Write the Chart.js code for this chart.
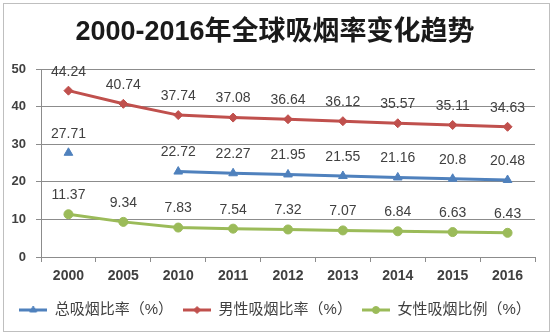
<!DOCTYPE html>
<html>
<head>
<meta charset="utf-8">
<script src="https://cdn.jsdelivr.net/npm/chart.js@4/dist/chart.umd.min.js"></script>
<style>
    html, body { margin: 0; padding: 0; background: #fff; }
    canvas { display: block; }
</style>
</head>
<body>
<canvas id="smokingChart" width="554" height="336"></canvas>
<script>
const years = ['2000', '2005', '2010', '2011', '2012', '2013', '2014', '2015', '2016'];
const totalRate = [27.71, null, 22.72, 22.27, 21.95, 21.55, 21.16, 20.8, 20.48];
const maleRate = [44.24, 40.74, 37.74, 37.08, 36.64, 36.12, 35.57, 35.11, 34.63];
const femaleRate = [11.37, 9.34, 7.83, 7.54, 7.32, 7.07, 6.84, 6.63, 6.43];
const seriesNames = ['总吸烟比率（%）', '男性吸烟比率（%）', '女性吸烟比例（%）'];
const yMin = 0;
const yMax = 50;
const yStep = 10;

(function () {
    const blue = '#4f81bd';
    const red = '#c0504d';
    const green = '#9bbb59';
    const gridColor = '#8c8c8c';
    const textColor = '#404040';

    Chart.defaults.font.family = '"Liberation Sans", "Noto Sans CJK SC", sans-serif';

    // legend symbol: short line with the marker in the middle
    const makeIcon = (color, style, radius) => {
        const icon = document.createElement('canvas');
        icon.width = 28;
        icon.height = 12;
        const c = icon.getContext('2d');
        c.strokeStyle = color;
        c.lineWidth = 3;
        c.beginPath();
        c.moveTo(0, 6);
        c.lineTo(28, 6);
        c.stroke();
        c.fillStyle = color;
        c.strokeStyle = color;
        c.lineWidth = 1;
        Chart.helpers.drawPoint(c, { pointStyle: style, radius: radius, borderWidth: 1, rotation: 0 }, 14, 6);
        return icon;
    };
    const icons = [
        makeIcon(blue, 'triangle', 4),
        makeIcon(red, 'rectRot', 3.5),
        makeIcon(green, 'circle', 3.5),
    ];

    const frame = {
        id: 'frame',
        beforeDraw(chart) {
            const ctx = chart.ctx;
            ctx.save();
            ctx.fillStyle = '#ffffff';
            ctx.fillRect(0, 0, chart.width, chart.height);
            ctx.strokeStyle = '#bfbfbf';
            ctx.lineWidth = 1;
            ctx.strokeRect(3.5, 3.5, 546, 328);
            ctx.restore();
        },
    };

    const valueLabels = {
        id: 'valueLabels',
        afterDatasetsDraw(chart) {
            const ctx = chart.ctx;
            ctx.save();
            ctx.font = '14px "Liberation Sans", sans-serif';
            ctx.fillStyle = textColor;
            ctx.textAlign = 'center';
            ctx.textBaseline = 'middle';
            chart.data.datasets.forEach((dataset, i) => {
                const meta = chart.getDatasetMeta(i);
                meta.data.forEach((point, j) => {
                    const value = dataset.data[j];
                    if (value === null || value === undefined) {
                        return;
                    }
                    ctx.fillText(String(value), point.x, point.y - 19);
                });
            });
            ctx.restore();
        },
    };

    const ctx = document.getElementById('smokingChart');
    new Chart(ctx, {
        type: 'line',
        data: {
            labels: years,
            datasets: [
                {
                    label: seriesNames[0],
                    data: totalRate,
                    borderColor: blue,
                    backgroundColor: blue,
                    borderWidth: 3,
                    pointStyle: 'triangle',
                    pointRadius: 5,
                    pointBorderWidth: 1,
                    spanGaps: false,
                    tension: 0,
                },
                {
                    label: seriesNames[1],
                    data: maleRate,
                    borderColor: red,
                    backgroundColor: red,
                    borderWidth: 3,
                    pointStyle: 'rectRot',
                    pointRadius: 4.5,
                    pointBorderWidth: 1,
                    tension: 0,
                },
                {
                    label: seriesNames[2],
                    data: femaleRate,
                    borderColor: green,
                    backgroundColor: green,
                    borderWidth: 3,
                    pointStyle: 'circle',
                    pointRadius: 4.5,
                    pointBorderWidth: 1,
                    tension: 0,
                },
            ],
        },
        options: {
            responsive: false,
            animation: false,
            layout: {
                padding: { left: 0, right: 4, top: 0, bottom: 8.5 },
            },
            scales: {
                x: {
                    type: 'category',
                    offset: true,
                    grid: {
                        offset: true,
                        drawOnChartArea: false,
                        drawTicks: true,
                        tickLength: 5,
                        color: gridColor,
                    },
                    border: { color: gridColor },
                    ticks: {
                        color: textColor,
                        padding: 6,
                        autoSkip: false,
                        maxRotation: 0,
                        font: { size: 14, weight: 'bold' },
                    },
                    afterFit: (scale) => {
                        scale.height = 35.5;
                    },
                },
                y: {
                    min: yMin,
                    max: yMax,
                    ticks: {
                        stepSize: yStep,
                        color: textColor,
                        padding: 10,
                        font: { size: 13, weight: 'bold' },
                    },
                    grid: {
                        color: gridColor,
                        drawTicks: true,
                        tickLength: 5,
                    },
                    border: { color: gridColor },
                    afterFit: (scale) => {
                        scale.width = 41;
                    },
                },
                yRight: {
                    type: 'linear',
                    position: 'right',
                    grid: { display: false },
                    border: { display: false },
                    ticks: { display: false },
                    afterFit: (scale) => {
                        scale.width = 15;
                    },
                },
            },
            plugins: {
                title: {
                    display: true,
                    text: '2000-2016年全球吸烟率变化趋势',
                    color: '#1a1a1a',
                    font: { size: 27, weight: 'bold' },
                    padding: { top: 16.8, bottom: 19.8 },
                },
                legend: {
                    position: 'bottom',
                    labels: {
                        usePointStyle: true,
                        pointStyleWidth: 28,
                        padding: 10,
                        color: textColor,
                        font: { size: 15 },
                        generateLabels: (chart) => {
                            const items = Chart.defaults.plugins.legend.labels.generateLabels(chart);
                            return items.map((item) => {
                                item.pointStyle = icons[item.datasetIndex];
                                return item;
                            });
                        },
                    },
                },
                tooltip: { enabled: false },
            },
        },
        plugins: [frame, valueLabels],
    });
})();
</script>
</body>
</html>
